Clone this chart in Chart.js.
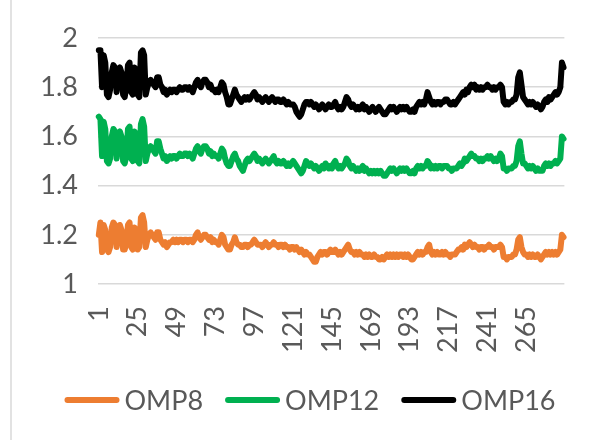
<!DOCTYPE html>
<html>
<head>
<meta charset="utf-8">
<script src="https://cdn.jsdelivr.net/npm/chart.js@4/dist/chart.umd.min.js"></script>
<style>
  html, body { margin: 0; padding: 0; background: #ffffff; }
  #wrap { width: 610px; height: 440px; position: relative; }
</style>
</head>
<body>
<div id="wrap"><canvas id="c" width="610" height="440"></canvas></div>
<script>
// Sample numbers 1..288 along the category axis
const categories = Array.from({ length: 288 }, (_, i) => String(i + 1));
// Category labels that are printed under the axis
const tickLabels = ['1', '25', '49', '73', '97', '121', '145', '169', '193', '217', '241', '265'];

const seriesNames = ['OMP8', 'OMP12', 'OMP16'];

const omp8 = [
  1.20, 1.25, 1.13, 1.24, 1.22, 1.14, 1.13, 1.15, 1.23, 1.25,
  1.24, 1.15, 1.22, 1.24, 1.22, 1.14, 1.14, 1.17, 1.24, 1.25,
  1.15, 1.14, 1.23, 1.22, 1.14, 1.15, 1.27, 1.28, 1.25, 1.15,
  1.18, 1.20, 1.21, 1.20, 1.19, 1.18, 1.21, 1.21, 1.18, 1.17,
  1.16, 1.17, 1.15, 1.16, 1.17, 1.17, 1.18, 1.17, 1.18, 1.17,
  1.18, 1.18, 1.17, 1.18, 1.18, 1.17, 1.18, 1.18, 1.17, 1.18,
  1.20, 1.21, 1.19, 1.18, 1.19, 1.20, 1.20, 1.19, 1.18, 1.19,
  1.17, 1.18, 1.17, 1.17, 1.16, 1.18, 1.20, 1.19, 1.16, 1.15,
  1.14, 1.14, 1.16, 1.17, 1.19, 1.17, 1.16, 1.16, 1.15, 1.15,
  1.16, 1.16, 1.15, 1.16, 1.16, 1.17, 1.18, 1.17, 1.16, 1.16,
  1.16, 1.15, 1.16, 1.17, 1.16, 1.15, 1.16, 1.16, 1.17, 1.16,
  1.16, 1.15, 1.16, 1.16, 1.15, 1.16, 1.15, 1.15, 1.14, 1.15,
  1.15, 1.14, 1.15, 1.14, 1.13, 1.14, 1.13, 1.12, 1.13, 1.12,
  1.12, 1.11, 1.10, 1.09, 1.09, 1.11, 1.12, 1.13, 1.12, 1.13,
  1.13, 1.12, 1.13, 1.14, 1.13, 1.13, 1.14, 1.13, 1.12, 1.13,
  1.12, 1.13, 1.14, 1.15, 1.16, 1.14, 1.13, 1.13, 1.12, 1.13,
  1.12, 1.13, 1.12, 1.12, 1.11, 1.12, 1.11, 1.12, 1.11, 1.11,
  1.12, 1.11, 1.11, 1.10, 1.10, 1.11, 1.10, 1.11, 1.12, 1.11,
  1.12, 1.11, 1.12, 1.11, 1.12, 1.11, 1.12, 1.12, 1.11, 1.12,
  1.11, 1.12, 1.11, 1.10, 1.10, 1.11, 1.12, 1.13, 1.12, 1.13,
  1.12, 1.13, 1.13, 1.15, 1.16, 1.13, 1.12, 1.13, 1.12, 1.13,
  1.12, 1.12, 1.13, 1.12, 1.13, 1.12, 1.12, 1.11, 1.12, 1.12,
  1.12, 1.13, 1.14, 1.14, 1.15, 1.14, 1.16, 1.15, 1.16, 1.17,
  1.16, 1.15, 1.16, 1.15, 1.15, 1.14, 1.15, 1.15, 1.14, 1.15,
  1.15, 1.16, 1.15, 1.15, 1.14, 1.15, 1.15, 1.15, 1.16, 1.15,
  1.11, 1.11, 1.10, 1.11, 1.11, 1.11, 1.12, 1.12, 1.14, 1.18,
  1.19, 1.15, 1.13, 1.12, 1.12, 1.11, 1.12, 1.11, 1.12, 1.11,
  1.11, 1.12, 1.11, 1.10, 1.11, 1.12, 1.13, 1.12, 1.13, 1.12,
  1.13, 1.12, 1.13, 1.12, 1.13, 1.14, 1.20, 1.19
];

const omp12 = [
  1.68, 1.67, 1.52, 1.66, 1.63, 1.50, 1.49, 1.51, 1.60, 1.63,
  1.62, 1.51, 1.61, 1.62, 1.60, 1.50, 1.49, 1.52, 1.63, 1.64,
  1.51, 1.50, 1.62, 1.61, 1.50, 1.49, 1.65, 1.67, 1.64, 1.50,
  1.53, 1.55, 1.56, 1.55, 1.54, 1.53, 1.58, 1.58, 1.55, 1.53,
  1.51, 1.52, 1.50, 1.51, 1.52, 1.51, 1.52, 1.52, 1.51, 1.52,
  1.53, 1.52, 1.52, 1.53, 1.53, 1.52, 1.53, 1.52, 1.51, 1.53,
  1.55, 1.56, 1.54, 1.53, 1.55, 1.56, 1.56, 1.55, 1.53, 1.54,
  1.52, 1.53, 1.52, 1.52, 1.51, 1.53, 1.55, 1.54, 1.51, 1.49,
  1.48, 1.48, 1.50, 1.52, 1.53, 1.51, 1.50, 1.48, 1.47, 1.46,
  1.48, 1.50, 1.51, 1.50, 1.51, 1.52, 1.53, 1.52, 1.50, 1.51,
  1.50, 1.49, 1.50, 1.51, 1.50, 1.49, 1.50, 1.51, 1.52, 1.50,
  1.49, 1.50, 1.49, 1.49, 1.50, 1.49, 1.48, 1.49, 1.48, 1.49,
  1.50, 1.49, 1.48, 1.47, 1.46, 1.45, 1.46, 1.48, 1.50, 1.49,
  1.48, 1.49, 1.48, 1.47, 1.48, 1.47, 1.46, 1.47, 1.48, 1.47,
  1.49, 1.48, 1.47, 1.48, 1.47, 1.49, 1.50, 1.48, 1.47, 1.48,
  1.47, 1.48, 1.49, 1.51, 1.50, 1.48, 1.47, 1.48, 1.47, 1.46,
  1.47, 1.46, 1.47, 1.48, 1.46, 1.47, 1.46, 1.45, 1.46, 1.45,
  1.46, 1.45, 1.46, 1.45, 1.46, 1.45, 1.44, 1.44, 1.45, 1.46,
  1.47, 1.46, 1.47, 1.46, 1.45, 1.46, 1.47, 1.46, 1.47, 1.46,
  1.47, 1.46, 1.45, 1.45, 1.46, 1.45, 1.47, 1.48, 1.47, 1.48,
  1.47, 1.48, 1.48, 1.50, 1.49, 1.47, 1.48, 1.47, 1.48, 1.47,
  1.48, 1.48, 1.47, 1.48, 1.48, 1.48, 1.47, 1.47, 1.46, 1.47,
  1.47, 1.47, 1.48, 1.49, 1.48, 1.49, 1.51, 1.50, 1.51, 1.52,
  1.53, 1.52, 1.52, 1.51, 1.51, 1.50, 1.51, 1.50, 1.51, 1.51,
  1.52, 1.51, 1.52, 1.51, 1.50, 1.51, 1.50, 1.51, 1.53, 1.52,
  1.47, 1.47, 1.46, 1.47, 1.47, 1.47, 1.48, 1.48, 1.50, 1.56,
  1.58, 1.53, 1.49, 1.49, 1.48, 1.47, 1.48, 1.47, 1.48, 1.47,
  1.46, 1.47, 1.46, 1.46, 1.46, 1.48, 1.49, 1.48, 1.49, 1.48,
  1.49, 1.49, 1.50, 1.49, 1.50, 1.51, 1.60, 1.59
];

const omp16 = [
  1.95, 1.95, 1.80, 1.93, 1.90, 1.77, 1.76, 1.79, 1.86, 1.89,
  1.88, 1.78, 1.87, 1.88, 1.86, 1.77, 1.76, 1.80, 1.89, 1.90,
  1.78, 1.77, 1.88, 1.87, 1.77, 1.76, 1.94, 1.95, 1.93, 1.77,
  1.80, 1.82, 1.83, 1.82, 1.81, 1.80, 1.84, 1.84, 1.81, 1.80,
  1.78, 1.79, 1.77, 1.78, 1.79, 1.78, 1.79, 1.79, 1.78, 1.79,
  1.80, 1.79, 1.79, 1.80, 1.80, 1.79, 1.80, 1.79, 1.78, 1.80,
  1.82, 1.83, 1.81, 1.80, 1.82, 1.83, 1.83, 1.82, 1.80, 1.81,
  1.79, 1.79, 1.78, 1.79, 1.78, 1.80, 1.82, 1.81, 1.78, 1.76,
  1.73, 1.73, 1.75, 1.77, 1.79, 1.77, 1.76, 1.75, 1.74, 1.75,
  1.76, 1.75, 1.76, 1.75, 1.76, 1.77, 1.78, 1.77, 1.75, 1.76,
  1.75, 1.74, 1.75, 1.76, 1.75, 1.74, 1.75, 1.76, 1.75, 1.74,
  1.75, 1.75, 1.74, 1.74, 1.75, 1.74, 1.73, 1.74, 1.73, 1.73,
  1.73, 1.72, 1.70, 1.69, 1.68, 1.69, 1.71, 1.73, 1.74, 1.74,
  1.73, 1.74, 1.73, 1.72, 1.73, 1.72, 1.71, 1.72, 1.73, 1.72,
  1.71, 1.72, 1.73, 1.72, 1.72, 1.73, 1.74, 1.72, 1.71, 1.72,
  1.71, 1.72, 1.74, 1.76, 1.75, 1.73, 1.72, 1.73, 1.72, 1.71,
  1.72, 1.71, 1.72, 1.73, 1.71, 1.72, 1.71, 1.70, 1.71, 1.72,
  1.71, 1.70, 1.71, 1.72, 1.71, 1.70, 1.69, 1.69, 1.70, 1.71,
  1.72, 1.71, 1.72, 1.71, 1.70, 1.71, 1.72, 1.71, 1.72, 1.71,
  1.72, 1.71, 1.70, 1.70, 1.71, 1.70, 1.72, 1.73, 1.74, 1.73,
  1.74, 1.73, 1.75, 1.78, 1.76, 1.74, 1.73, 1.74, 1.73, 1.74,
  1.74, 1.73, 1.74, 1.74, 1.75, 1.75, 1.74, 1.73, 1.73, 1.74,
  1.73, 1.74, 1.75, 1.76, 1.77, 1.78, 1.77, 1.79, 1.78, 1.80,
  1.81, 1.80, 1.81, 1.79, 1.80, 1.79, 1.80, 1.79, 1.80, 1.80,
  1.81, 1.80, 1.80, 1.79, 1.80, 1.79, 1.80, 1.80, 1.81, 1.80,
  1.74, 1.73, 1.74, 1.73, 1.74, 1.74, 1.75, 1.75, 1.77, 1.84,
  1.86, 1.81, 1.76, 1.75, 1.74, 1.73, 1.74, 1.73, 1.74, 1.73,
  1.72, 1.73, 1.72, 1.71, 1.72, 1.74, 1.75, 1.74, 1.76, 1.75,
  1.76, 1.77, 1.78, 1.77, 1.78, 1.80, 1.90, 1.88
];

const seriesColors = ['#ED7D31', '#00B050', '#000000'];
const textColor = '#595959';
const fontFamily = 'Lato, "Open Sans", sans-serif';

// Legend row drawn under the plot: coloured line sample followed by the name
const bottomLegend = {
  id: 'bottomLegend',
  afterDraw(chart) {
    const ctx = chart.ctx;
    const lineLen = 55, gapText = 5, gapItem = 22, centerX = 310, y = 400;
    ctx.save();
    ctx.font = '27px ' + fontFamily;
    const items = chart.data.datasets.map(ds => ({
      label: ds.label, color: ds.borderColor, w: ctx.measureText(ds.label).width
    }));
    const total = items.reduce((s, it) => s + lineLen + gapText + it.w, 0) + gapItem * (items.length - 1);
    let x = centerX - total / 2;
    ctx.textBaseline = 'middle';
    ctx.textAlign = 'left';
    items.forEach(it => {
      ctx.strokeStyle = it.color;
      ctx.lineWidth = 6;
      ctx.lineCap = 'round';
      ctx.beginPath();
      ctx.moveTo(x + 3, y);
      ctx.lineTo(x + lineLen - 3, y);
      ctx.stroke();
      ctx.fillStyle = textColor;
      ctx.fillText(it.label, x + lineLen + gapText, y + 1);
      x += lineLen + gapText + it.w + gapItem;
    });
    ctx.restore();
  }
};

// Thin frame edge on the left of the chart
const frameEdge = {
  id: 'frameEdge',
  beforeDraw(chart) {
    const ctx = chart.ctx;
    ctx.save();
    ctx.strokeStyle = '#d9d9d9';
    ctx.lineWidth = 1.5;
    ctx.beginPath();
    ctx.moveTo(11, 0);
    ctx.lineTo(11, 440);
    ctx.stroke();
    ctx.restore();
  }
};

new Chart(document.getElementById('c'), {
  type: 'line',
  data: {
    labels: categories,
    datasets: [omp8, omp12, omp16].map((values, k) => ({
      label: seriesNames[k],
      data: values,
      borderColor: seriesColors[k],
      backgroundColor: seriesColors[k],
      borderWidth: 6,
      pointRadius: 0,
      pointHoverRadius: 0,
      tension: 0,
      fill: false,
      borderJoinStyle: 'round',
      borderCapStyle: 'round'
    }))
  },
  options: {
    responsive: false,
    animation: false,
    devicePixelRatio: 1,
    layout: { padding: { top: 38, left: 0, right: 28, bottom: 76 } },
    plugins: { legend: { display: false }, tooltip: { enabled: false } },
    scales: {
      x: {
        offset: true,
        grid: { display: false },
        border: { display: false },
        ticks: {
          autoSkip: false,
          minRotation: 90,
          maxRotation: 90,
          padding: 14,
          color: textColor,
          font: { family: fontFamily, size: 27 },
          callback: function (value) {
            const label = this.getLabelForValue(value);
            return tickLabels.includes(label) ? label : '';
          }
        },
        afterFit: scale => { scale.height = 80; }
      },
      y: {
        min: 1,
        max: 2,
        grid: { color: '#d9d9d9', lineWidth: 1.5, drawTicks: false },
        border: { display: false },
        ticks: {
          stepSize: 0.2,
          padding: 20,
          color: textColor,
          font: { family: fontFamily, size: 27 },
          callback: v => String(Number(v.toFixed(1)))
        },
        afterFit: scale => { scale.width = 98; }
      }
    }
  },
  plugins: [frameEdge, bottomLegend]
});
</script>
</body>
</html>
